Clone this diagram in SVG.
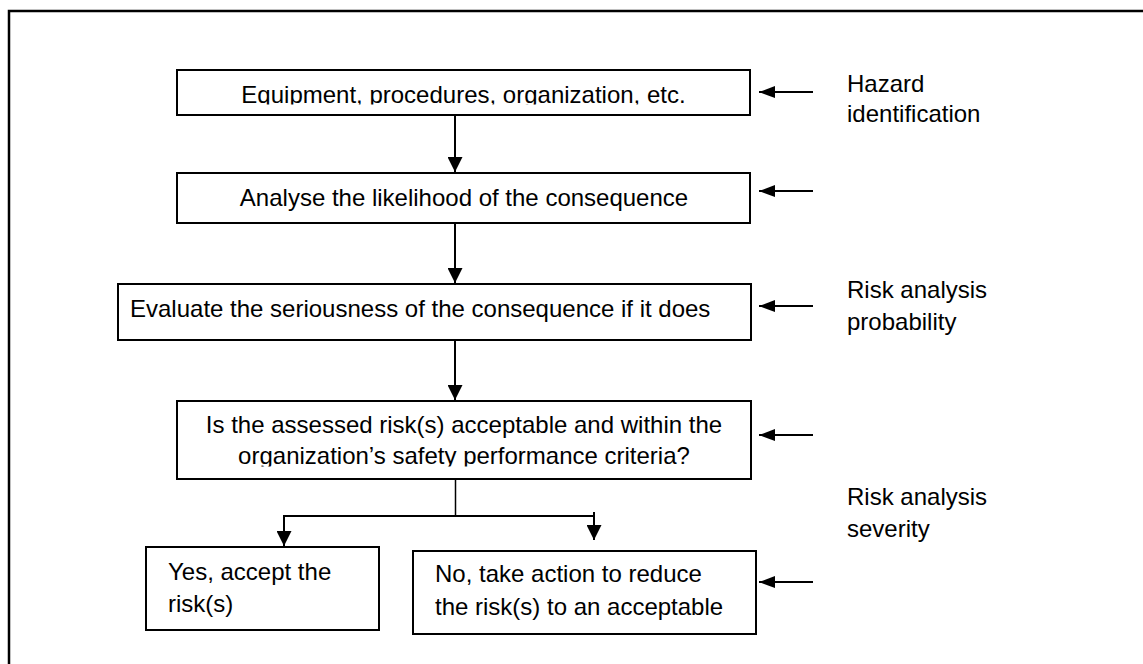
<svg xmlns="http://www.w3.org/2000/svg" width="1143" height="664" viewBox="0 0 1143 664">
  <style>
    .box { fill: #ffffff; stroke: #000000; stroke-width: 2; }
    .txt { font-family: "Liberation Sans", Arial, sans-serif; font-size: 24px; fill: #000000; }
    .mid { text-anchor: middle; }
    .conn { stroke: #000000; stroke-width: 2; fill: none; }
    .thin { stroke: #000000; stroke-width: 1.5; fill: none; }
  </style>
  <defs>
    <marker id="arrDown" markerUnits="userSpaceOnUse" markerWidth="15" markerHeight="15" refX="15" refY="7.5" orient="auto">
      <path d="M0,0 L15,7.5 L0,15 z" fill="#000000"/>
    </marker>
    <marker id="arrSide" markerUnits="userSpaceOnUse" markerWidth="16" markerHeight="12" refX="16" refY="6" orient="auto">
      <path d="M0,0 L16,6 L0,12 z" fill="#000000"/>
    </marker>
    <clipPath id="clip1"><rect x="177" y="70" width="573" height="34.5"/></clipPath>
    <clipPath id="clip4"><rect x="177" y="401" width="574" height="65.5"/></clipPath>
  </defs>

  <rect width="1143" height="664" fill="#ffffff"/>
  <path d="M9,700 V11 H1200" fill="none" stroke="#000000" stroke-width="2.5"/>

  <g id="n1">
    <rect class="box" x="177" y="70" width="573" height="45"/>
    <text class="txt mid" x="463.5" y="102.5" clip-path="url(#clip1)">Equipment, procedures, organization, etc.</text>
  </g>
  <g id="n2">
    <rect class="box" x="177" y="173" width="573" height="50"/>
    <text class="txt mid" x="464" y="206">Analyse the likelihood of the consequence</text>
  </g>
  <g id="n3">
    <rect class="box" x="118" y="284" width="633" height="56"/>
    <text class="txt" x="130" y="317">Evaluate the seriousness of the consequence if it does</text>
  </g>
  <g id="n4">
    <rect class="box" x="177" y="401" width="574" height="78"/>
    <g clip-path="url(#clip4)">
      <text class="txt mid" x="464" y="433">Is the assessed risk(s) acceptable and within the</text>
      <text class="txt mid" x="464" y="464">organization’s safety performance criteria?</text>
    </g>
  </g>
  <g id="n5">
    <rect class="box" x="146" y="547" width="233" height="83"/>
    <text class="txt" x="168" y="580">Yes, accept the</text>
    <text class="txt" x="168" y="612">risk(s)</text>
  </g>
  <g id="n6">
    <rect class="box" x="413" y="551" width="343" height="83"/>
    <text class="txt" x="435" y="582">No, take action to reduce</text>
    <text class="txt" x="435" y="615">the risk(s) to an acceptable</text>
  </g>

  <g id="labels">
    <text class="txt" x="847" y="92">Hazard</text>
    <text class="txt" x="847" y="122">identification</text>
    <text class="txt" x="847" y="298">Risk analysis</text>
    <text class="txt" x="847" y="330">probability</text>
    <text class="txt" x="847" y="505">Risk analysis</text>
    <text class="txt" x="847" y="537">severity</text>
  </g>

  <g id="connectors">
    <line class="conn" x1="455" y1="115" x2="455" y2="172" marker-end="url(#arrDown)"/>
    <line class="conn" x1="455" y1="223" x2="455" y2="283" marker-end="url(#arrDown)"/>
    <line class="conn" x1="455" y1="340" x2="455" y2="400" marker-end="url(#arrDown)"/>
    <line class="thin" x1="455.5" y1="479" x2="455.5" y2="516"/>
    <line class="conn" x1="283" y1="516" x2="594" y2="516"/>
    <line class="conn" x1="284" y1="515" x2="284" y2="546" marker-end="url(#arrDown)"/>
    <line class="conn" x1="594" y1="512" x2="594" y2="540" marker-end="url(#arrDown)"/>
    <line class="conn" x1="813" y1="92" x2="759" y2="92" marker-end="url(#arrSide)"/>
    <line class="conn" x1="813" y1="191" x2="759" y2="191" marker-end="url(#arrSide)"/>
    <line class="conn" x1="813" y1="306" x2="759" y2="306" marker-end="url(#arrSide)"/>
    <line class="conn" x1="813" y1="435" x2="759" y2="435" marker-end="url(#arrSide)"/>
    <line class="conn" x1="813" y1="582" x2="759" y2="582" marker-end="url(#arrSide)"/>
  </g>
</svg>
